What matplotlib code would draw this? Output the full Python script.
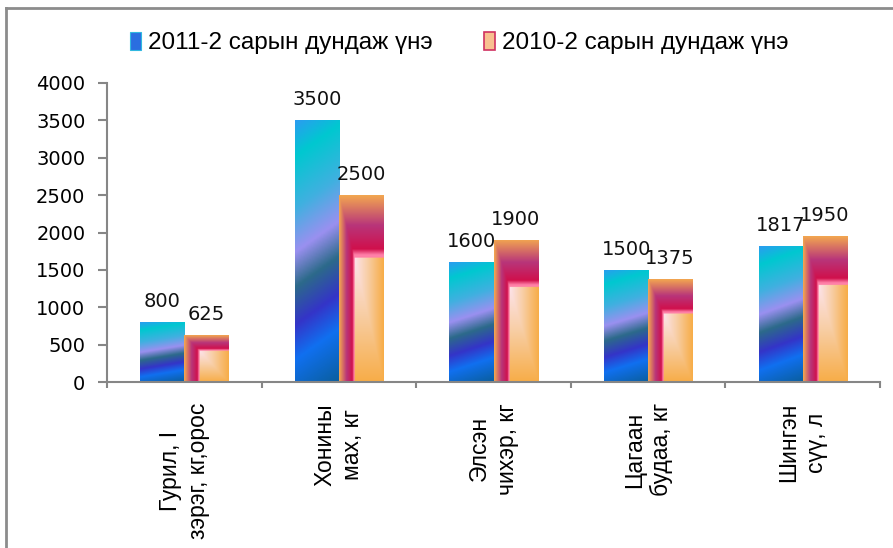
import numpy as np
import matplotlib
matplotlib.use("Agg")
import matplotlib.pyplot as plt
from matplotlib.colors import LinearSegmentedColormap
from matplotlib.patches import Patch
from matplotlib.lines import Line2D

categories = ["Гурил, I\nзэрэг, кг,орос", "Хонины\nмах, кг", "Элсэн\nчихэр, кг",
              "Цагаан\nбудаа, кг", "Шингэн\nсүү, л"]
price_2011 = [800, 3500, 1600, 1500, 1817]
price_2010 = [625, 2500, 1900, 1375, 1950]
series_names = ["2011-2 сарын дундаж үнэ", "2010-2 сарын дундаж үнэ"]
yticks = [0, 500, 1000, 1500, 2000, 2500, 3000, 3500, 4000]

blue_cmap = LinearSegmentedColormap.from_list("blue", [
    (0.00, "#2a9df0"), (0.12, "#00c8d0"), (0.30, "#40b0e0"), (0.45, "#9a90f0"),
    (0.57, "#2c6a8a"), (0.70, "#3434c8"), (0.82, "#1070f0"), (1.00, "#0a5e9e")])
frame_cmap = LinearSegmentedColormap.from_list("frame", [
    (0.0, "#f2a650"), (0.5, "#b8357a"), (0.9, "#d0104c"), (1.0, "#ff80a8")])
inner_cmap = LinearSegmentedColormap.from_list("inner", [
    (0.0, "#fde4ee"), (0.45, "#f8cfa8"), (1.0, "#f7ad48")])


def blue_img(n=200, m=60):
    s = np.linspace(0, 1, n)[:, None]
    x = np.linspace(0, 1, m)[None, :]
    u = (s + 0.12 * x) / 1.12
    return blue_cmap(u)


def orange_img(n=200, m=60):
    s = np.linspace(0, 1, n)[:, None] * np.ones((1, m))
    x = np.linspace(0, 1, m)[None, :] * np.ones((n, 1))
    t = np.minimum(x / 0.33, s / 0.32)
    img = frame_cmap(np.clip(t, 0, 1))
    v = np.maximum((x - 0.33) / 0.67, (s - 0.32) / 0.68)
    inner = inner_cmap(np.clip(v, 0, 1))
    mask = t >= 1.04
    img[mask] = inner[mask]
    return img


fig = plt.figure(figsize=(8.93, 5.48), dpi=100)
ax = fig.add_axes([107 / 893, 1 - 382 / 548, 773 / 893, 299 / 548])

x = np.arange(len(categories)) + 0.5
w = 0.285
bars1 = ax.bar(x - w / 2, price_2011, w, facecolor="none", edgecolor="none")
bars2 = ax.bar(x + w / 2, price_2010, w, facecolor="none", edgecolor="none")

for bars, maker in ((bars1, blue_img), (bars2, orange_img)):
    for b in bars:
        x0, h, bw = b.get_x(), b.get_height(), b.get_width()
        im = ax.imshow(maker(), extent=(x0, x0 + bw, 0, h), aspect="auto",
                       origin="upper", interpolation="bilinear", zorder=2)
        im.set_clip_path(b)
        ax.text(x0 + bw / 2, h + 150, f"{int(h)}", ha="center", va="bottom",
                fontsize=14, family="DejaVu Sans", color="#111111")

ax.set_xlim(0, len(categories))
ax.set_ylim(0, 4000)
ax.set_yticks(yticks)
ax.set_yticklabels([str(v) for v in yticks], fontsize=14, family="DejaVu Sans")
ax.set_xticks(np.arange(len(categories) + 1))
ax.set_xticklabels([])
for xi, lab in zip(x, categories):
    ax.text(xi, -0.07, lab, transform=ax.get_xaxis_transform(), rotation=90,
            ha="center", va="top", multialignment="center", fontsize=16.5,
            family="Liberation Sans", linespacing=1.25)

for side in ("top", "right"):
    ax.spines[side].set_visible(False)
for side in ("left", "bottom"):
    ax.spines[side].set_color("#868686")
    ax.spines[side].set_linewidth(1.5)
ax.tick_params(axis="y", direction="out", length=6.5, color="#868686", width=1.5, pad=9)
ax.tick_params(axis="x", direction="out", length=4, color="#868686", width=1.5)

handles = [Patch(facecolor="#2a6ee0", edgecolor="#30b8e0", linewidth=0.8),
           Patch(facecolor="#f8c090", edgecolor="#d03060", linewidth=1.2)]
fig.legend(handles, series_names, loc="center", bbox_to_anchor=(0.514, 0.921),
           ncol=2, frameon=False, prop={"family": "Liberation Sans", "size": 17.5},
           handlelength=0.45, handleheight=0.75, handletextpad=0.3, columnspacing=2.1)

# outer frame, only the top and left edges show
fig.add_artist(Line2D([6 / 893, 6 / 893], [0, 1 - 8 / 548], transform=fig.transFigure,
                      color="#8c8c8c", linewidth=2))
fig.add_artist(Line2D([6 / 893, 1], [1 - 8 / 548, 1 - 8 / 548], transform=fig.transFigure,
                      color="#8c8c8c", linewidth=2))

fig.savefig("out.png", dpi=100)
